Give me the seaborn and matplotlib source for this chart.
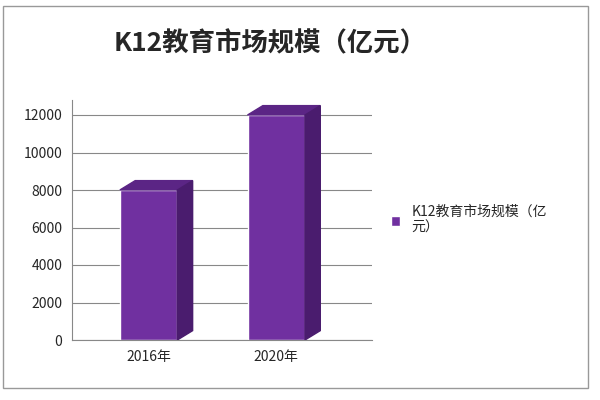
import matplotlib
matplotlib.use("Agg")
import matplotlib.pyplot as plt
import seaborn as sns
import pandas as pd
from matplotlib.patches import Polygon

years = ["2016年", "2020年"]
values = [8000, 12000]
series = "K12教育市场规模（亿元）"

sns.set_style("white")
plt.rcParams['font.family'] = ['Noto Sans CJK SC', 'DejaVu Sans']

fig = plt.figure(figsize=(6, 4), dpi=100)
ax = fig.add_axes([0.12, 0.15, 0.5, 0.60])
df = pd.DataFrame({"year": years, "value": values})
sns.barplot(data=df, x="year", y="value", color="#7030A0", width=0.45, ax=ax,
            saturation=1, label="K12教育市场规模（亿\n元）")
dx, dy = 0.12, 500
for p in ax.patches:
    x0, w, h = p.get_x(), p.get_width(), p.get_height()
    ax.add_patch(Polygon([(x0, h), (x0 + dx, h + dy), (x0 + w + dx, h + dy), (x0 + w, h)],
                         closed=True, color="#5B2585", zorder=3))
    ax.add_patch(Polygon([(x0 + w, 0), (x0 + w + dx, dy), (x0 + w + dx, h + dy), (x0 + w, h)],
                         closed=True, color="#4A1C6E", zorder=3))
ax.set_ylim(0, 12800)
ax.set_xlim(-0.6, 1.75)
ax.set_yticks(range(0, 12001, 2000))
ax.yaxis.grid(True, color="#888888", linewidth=0.8)
ax.set_axisbelow(True)
for s in ["top", "right"]:
    ax.spines[s].set_visible(False)
ax.spines["left"].set_color("#888888")
ax.spines["bottom"].set_color("#888888")
ax.set_xlabel("")
ax.set_ylabel("")
ax.tick_params(labelsize=10)
ax.legend(loc="center left", bbox_to_anchor=(1.02, 0.5), frameon=False, fontsize=10,
          handlelength=0.7, handleheight=0.7)
fig.text(0.45, 0.89, "K12教育市场规模（亿元）", ha="center", va="center",
         fontsize=19, fontweight="bold")
fig.add_artist(plt.Rectangle((0.005, 0.03), 0.975, 0.955, transform=fig.transFigure,
                             fill=False, edgecolor="#999999", linewidth=1))
fig.savefig("out.png", dpi=100)
